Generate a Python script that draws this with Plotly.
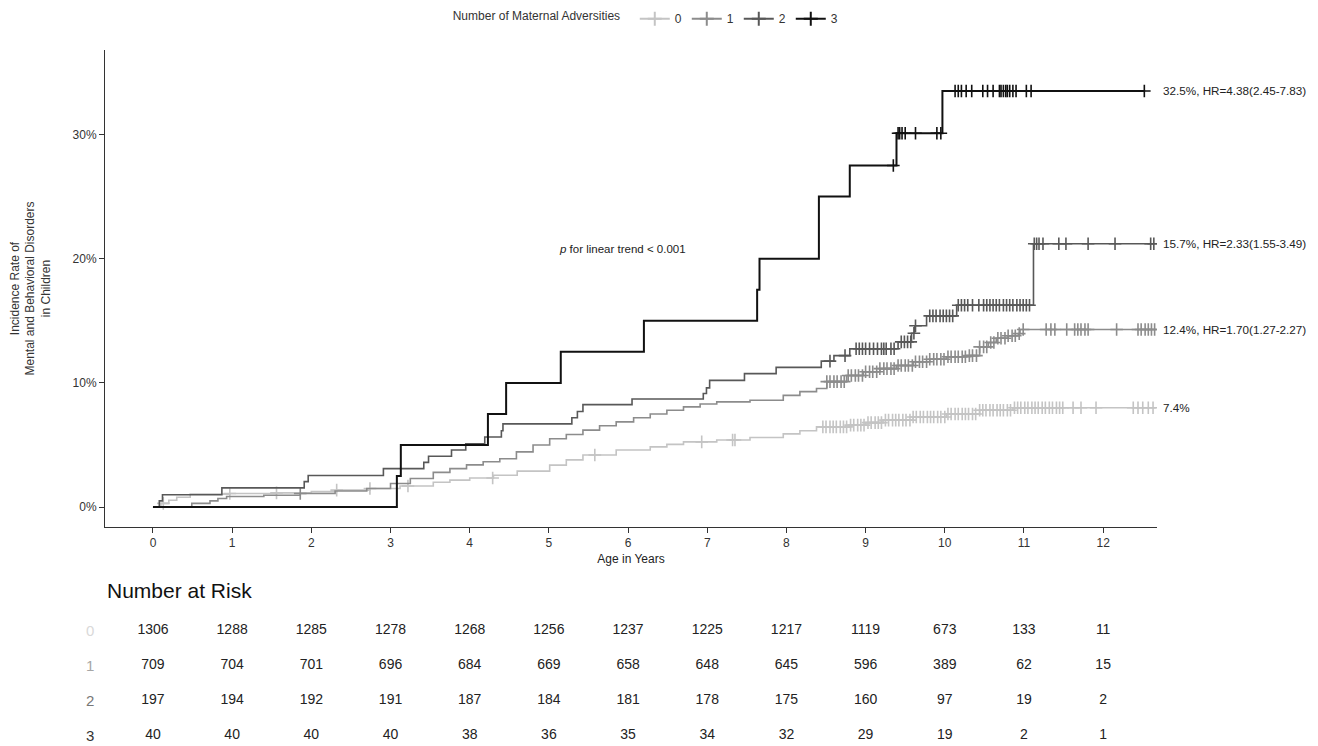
import numpy as np
import plotly.graph_objects as go

# ---------------- data ----------------
groups = ["0", "1", "2", "3"]
colors = ["#c4c4c4", "#8c8c8c", "#585858", "#111111"]
label_colors = ["#d9d9d9", "#a6a6a6", "#777777", "#333333"]

# step-curve event times (years) and cumulative incidence (%)
t0 = [0, 0.1, 0.2, 0.3, 0.47, 0.97, 1.56, 2.0, 2.32, 2.74, 3.12, 3.54, 3.75, 4.0, 4.30,
      4.6, 5.01, 5.22, 5.43, 5.85, 6.28, 6.49, 6.70, 7.12, 7.54, 7.96, 8.17, 8.38, 8.80,
      9.0, 9.22, 9.6, 10.02, 10.44, 10.86, 12.67]
y0 = [0, 0.3, 0.55, 0.8, 1.05, 1.1, 1.15, 1.25, 1.37, 1.5, 1.7, 2.0, 2.17, 2.35, 2.57,
      2.9, 3.38, 3.8, 4.2, 4.6, 4.85, 5.05, 5.25, 5.4, 5.6, 5.9, 6.15, 6.46, 6.6,
      6.8, 7.0, 7.25, 7.5, 7.8, 8.0, 8.0]

t1 = [0, 0.49, 0.72, 0.82, 0.93, 1.4, 1.86, 2.3, 2.7, 3.0, 3.25, 3.54, 3.75, 3.96, 4.17,
      4.38, 4.59, 4.8, 5.01, 5.22, 5.43, 5.64, 5.85, 6.07, 6.28, 6.49, 6.70, 6.91, 7.12,
      7.54, 7.96, 8.17, 8.38, 8.51, 8.76, 8.97, 9.18, 9.39, 9.60, 9.81, 10.02, 10.27,
      10.44, 10.55, 10.65, 10.80, 10.93, 10.95, 12.67]
y1 = [0, 0.3, 0.5, 0.7, 0.85, 0.95, 1.1, 1.3, 1.5, 1.9, 2.3, 2.8, 3.1, 3.4, 3.65,
      3.9, 4.45, 5.0, 5.5, 5.85, 6.2, 6.55, 6.86, 7.2, 7.5, 7.8, 8.07, 8.3, 8.47,
      8.6, 9.0, 9.3, 9.55, 10.1, 10.6, 10.9, 11.15, 11.4, 11.7, 11.9, 12.1, 12.2,
      12.9, 13.25, 13.6, 13.8, 13.97, 14.3, 14.3]

t2 = [0, 0.08, 0.12, 0.87, 1.91, 1.96, 2.91, 3.42, 3.48, 3.77, 3.95, 4.19, 4.40, 4.42,
      5.29, 5.36, 5.43, 6.05, 6.95, 6.99, 7.03, 7.47, 7.87, 8.44, 8.60, 8.80, 9.41,
      9.58, 9.62, 9.77, 10.15, 11.12, 12.63]
y2 = [0, 0.5, 1.0, 1.55, 2.05, 2.55, 3.1, 3.6, 4.1, 4.6, 5.1, 5.65, 6.15, 6.7,
      7.2, 7.7, 8.25, 8.7, 9.15, 9.6, 10.2, 10.75, 11.25, 11.75, 12.2, 12.75, 13.3,
      14.0, 14.6, 15.4, 16.25, 21.2, 21.2]

t3 = [0, 3.08, 3.13, 4.23, 4.46, 5.15, 6.20, 7.63, 7.66, 8.41, 8.80, 9.39, 9.97, 12.53]
y3 = [0, 2.5, 5.0, 7.5, 10.0, 12.5, 15.0, 17.5, 20.0, 25.0, 27.5, 30.1, 33.5, 33.5]

# censoring times (years)
c0 = [0.13, 0.97, 1.56, 2.32, 2.74, 3.22, 4.29, 5.58, 6.93, 7.32, 7.35,
      8.46, 8.50, 8.55, 8.59, 8.63, 8.68, 8.72, 8.76, 8.81, 8.85, 8.90, 8.94, 8.98,
      9.03, 9.07, 9.12, 9.16, 9.20, 9.25, 9.29, 9.34, 9.38, 9.42, 9.47, 9.51, 9.56,
      9.60, 9.64, 9.69, 9.73, 9.78, 9.82, 9.86, 9.91, 9.95, 10.00, 10.04, 10.08,
      10.13, 10.17, 10.22, 10.26, 10.30, 10.35, 10.39, 10.44, 10.48, 10.52, 10.57,
      10.61, 10.66, 10.70, 10.74, 10.79, 10.83, 10.88, 10.92, 10.96, 11.01, 11.05,
      11.10, 11.14, 11.18, 11.23, 11.27, 11.32, 11.36, 11.41, 11.45, 11.49,
      11.62, 11.72, 11.91, 12.38, 12.44, 12.50, 12.57, 12.63]
c1 = [1.86, 8.51, 8.55, 8.60, 8.64, 8.69, 8.73, 8.78, 8.82, 8.87, 8.91, 8.96, 9.00,
      9.05, 9.09, 9.14, 9.18, 9.23, 9.27, 9.32, 9.36, 9.41, 9.45, 9.50, 9.54, 9.59,
      9.63, 9.68, 9.72, 9.77, 9.81, 9.86, 9.90, 9.95, 9.99, 10.04, 10.08, 10.13,
      10.17, 10.22, 10.26, 10.31, 10.35, 10.40, 10.44, 10.49, 10.53, 10.58, 10.62,
      10.67, 10.71, 10.76, 10.80, 10.85, 10.89, 10.94, 10.99,
      11.28, 11.34, 11.39, 11.54, 11.64, 11.68, 11.72, 11.77, 11.81, 12.17, 12.44,
      12.48, 12.53, 12.57, 12.61, 12.65]
c2 = [8.55, 8.74, 8.88, 8.92, 8.96, 9.00, 9.05, 9.10, 9.15, 9.20, 9.23, 9.26, 9.32,
      9.36, 9.45, 9.49, 9.53, 9.57, 9.61, 9.63, 9.81, 9.85, 9.89, 9.94, 9.98, 10.02,
      10.06, 10.10, 10.17, 10.21, 10.25, 10.29, 10.35, 10.43, 10.49, 10.53, 10.57,
      10.61, 10.65, 10.69, 10.74, 10.78, 10.82, 10.86, 10.91, 10.95, 10.99, 11.03,
      11.07, 11.13, 11.16, 11.19, 11.24, 11.44, 11.53, 11.81, 12.15, 12.60, 12.64]
c3 = [9.35, 9.41, 9.43, 9.46, 9.50, 9.63, 9.90, 9.95, 10.13, 10.17, 10.21, 10.27,
      10.34, 10.48, 10.54, 10.61, 10.69, 10.71, 10.74, 10.77, 10.79, 10.82, 10.86,
      10.90, 11.03, 11.09, 12.52]

end_labels = ["7.4%", "12.4%, HR=1.70(1.27-2.27)", "15.7%, HR=2.33(1.55-3.49)",
              "32.5%, HR=4.38(2.45-7.83)"]

y_ticks = [0, 10, 20, 30]
y_tick_labels = ["0%", "10%", "20%", "30%"]

risk_times = list(range(13))
risk0 = [1306, 1288, 1285, 1278, 1268, 1256, 1237, 1225, 1217, 1119, 673, 133, 11]
risk1 = [709, 704, 701, 696, 684, 669, 658, 648, 645, 596, 389, 62, 15]
risk2 = [197, 194, 192, 191, 187, 184, 181, 178, 175, 160, 97, 19, 2]
risk3 = [40, 40, 40, 40, 38, 36, 35, 34, 32, 29, 19, 2, 1]

# ---------------- figure ----------------
FONT = "Liberation Sans, Arial, sans-serif"
curves = [(t0, y0, c0), (t1, y1, c1), (t2, y2, c2), (t3, y3, c3)]
risks = [risk0, risk1, risk2, risk3]
widths = [1.6, 1.6, 1.6, 2.0]

fig = go.Figure()

for i, (t, y, c) in enumerate(curves):
    col = colors[i]
    fig.add_trace(go.Scatter(x=t, y=y, mode="lines",
                             line=dict(color=col, width=widths[i], shape="hv"),
                             showlegend=False, hoverinfo="skip", xaxis="x", yaxis="y"))
    ta = np.array(t)
    ya = np.array(y)
    idx = np.searchsorted(ta, np.array(c), side="right") - 1
    fig.add_trace(go.Scatter(x=c, y=ya[idx], mode="markers",
                             marker=dict(symbol="cross-thin", size=9,
                                         line=dict(color=col, width=1.6)),
                             showlegend=False, hoverinfo="skip", xaxis="x", yaxis="y"))
    # legend entry
    fig.add_trace(go.Scatter(x=[None], y=[None], mode="lines+markers", name=groups[i],
                             line=dict(color=col, width=2),
                             marker=dict(symbol="cross-thin", size=10,
                                         line=dict(color=col, width=2)),
                             xaxis="x", yaxis="y"))
    # end-of-curve label
    fig.add_annotation(x=1.004, xref="paper", y=y[-1], yref="y", text=end_labels[i],
                       showarrow=False, xanchor="left", yanchor="middle",
                       font=dict(family=FONT, size=11.7, color="#222222"))

# risk table
for i, r in enumerate(risks):
    fig.add_trace(go.Scatter(x=risk_times, y=[3 - i] * len(r), mode="text",
                             text=[str(v) for v in r],
                             textfont=dict(family=FONT, size=14, color="#222222"),
                             showlegend=False, hoverinfo="skip", xaxis="x2", yaxis="y2"))
    fig.add_annotation(x=-0.014, xref="paper", y=3 - i, yref="y2", text=groups[i],
                       showarrow=False, xanchor="center", yanchor="middle",
                       font=dict(family=FONT, size=15, color=label_colors[i]))

fig.add_annotation(x=0, xref="paper", y=(746 - 590) / 696, yref="paper",
                   text="Number at Risk", showarrow=False, xanchor="left", yanchor="middle",
                   font=dict(family=FONT, size=21, color="#111111"))

fig.add_annotation(x=5.93, xref="x", y=20.76, yref="y",
                   text="<i>p</i> for linear trend &lt; 0.001", showarrow=False,
                   font=dict(family=FONT, size=11.5, color="#222222"))

xr = [-0.606, 12.68]
fig.update_layout(
    width=1318, height=746,
    margin=dict(l=105, r=161, t=50, b=0, autoexpand=False),
    paper_bgcolor="white", plot_bgcolor="white",
    font=dict(family=FONT, size=12, color="#333333"),
    xaxis=dict(domain=[0, 1], anchor="y", range=xr, tickvals=risk_times, automargin=False,
               ticks="outside", ticklen=5, tickcolor="#333333", showline=True,
               linecolor="#333333", linewidth=1, showgrid=False, zeroline=False,
               tickfont=dict(size=12, color="#333333"),
               title=dict(text="Age in Years", standoff=5, font=dict(size=12, color="#222222"))),
    yaxis=dict(domain=[(746 - 527) / 696, 1], anchor="x", range=[-1.6, 36.8],
               tickvals=y_ticks, ticktext=y_tick_labels, ticks="outside", ticklen=5,
               automargin=False,
               tickcolor="#333333", showline=True, linecolor="#333333", linewidth=1,
               showgrid=False, zeroline=False, tickfont=dict(size=12, color="#333333"),
               title=dict(text="Incidence Rate of<br>Mental and Behavioral Disorders<br>in Children",
                          standoff=19, font=dict(size=12, color="#333333"))),
    xaxis2=dict(domain=[0, 1], anchor="y2", range=xr, visible=False, automargin=False),
    yaxis2=dict(domain=[0, 0.2], anchor="x2", range=[-0.286, 3.69], visible=False,
                automargin=False),
    legend=dict(orientation="h", x=0.5154, xanchor="center", y=1.045, yanchor="middle",
                title=dict(text="Number of Maternal Adversities  ", side="left",
                           font=dict(size=12, color="#333333")),
                font=dict(size=12, color="#333333"), itemwidth=30,
                bgcolor="rgba(0,0,0,0)"),
)

fig.write_html("out.html", config={"displayModeBar": False},
               post_script="document.body.style.margin='0';document.body.style.overflow='hidden';")
